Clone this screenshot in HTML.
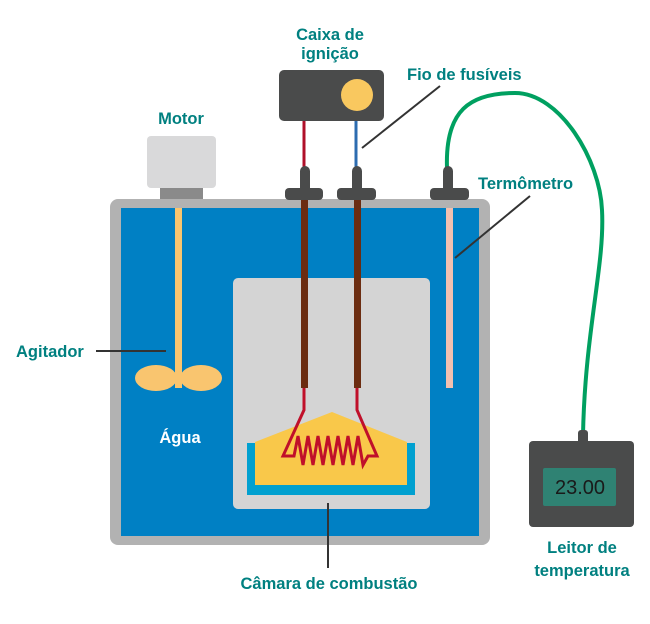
<!DOCTYPE html>
<html><head><meta charset="utf-8"><style>
html,body{margin:0;padding:0;background:#fff;}
svg text{font-family:"Liberation Sans",sans-serif;font-weight:bold;font-size:16.5px;fill:#008080;}
</style></head><body>
<svg width="650" height="619" viewBox="0 0 650 619" xmlns="http://www.w3.org/2000/svg">
<rect x="110" y="199" width="380" height="346" rx="8" fill="#b2b2b2"/>
<rect x="121" y="208" width="358" height="328" fill="#0080c4"/>
<rect x="147" y="136" width="69" height="52" rx="4" fill="#d9d9da"/>
<rect x="160" y="188" width="43" height="11" fill="#8a8a8a"/>
<rect x="175" y="208" width="7" height="170" fill="#f9c56f"/>
<ellipse cx="156" cy="378" rx="21" ry="13" fill="#f9c56f"/>
<ellipse cx="201" cy="378" rx="21" ry="13" fill="#f9c56f"/>
<rect x="175" y="368" width="7" height="20" fill="#f9c56f"/>
<rect x="446" y="208" width="7" height="180" fill="#f2c0b0"/>
<rect x="233" y="278" width="197" height="231" rx="5" fill="#d4d4d4"/>
<rect x="247" y="443" width="168" height="52" fill="#00a0d0"/>
<polygon points="255,442 332,412 407,442 407,485 255,485" fill="#f9c84a"/>
<rect x="301" y="198" width="7" height="190" fill="#6b2c10"/>
<rect x="354" y="198" width="7" height="190" fill="#6b2c10"/>
<polyline fill="none" stroke="#c0102a" stroke-width="3" stroke-linejoin="miter" points="304,388 304,410 283,456 294,456 298,436 303,465 308,436 313,465 318,436 323,465 328,436 333,465 338,436 343,465 348,436 353,465 358,436 363,465 368,456 377,456 357,410 357,388"/>
<rect x="279" y="70" width="105" height="51" rx="5" fill="#4a4b4b"/>
<circle cx="357" cy="95" r="16" fill="#f9c85f"/>
<line x1="304" y1="121" x2="304" y2="170" stroke="#b0102a" stroke-width="3"/>
<line x1="356" y1="121" x2="356" y2="170" stroke="#2d6cb0" stroke-width="3"/>
<path d="M447,168 C445,110 470,93 515,93 C560,93 600,160 602,210 C605,265 585,330 583,435" fill="none" stroke="#00a060" stroke-width="4"/>
<g fill="#4a4b4b">
<rect x="300" y="166" width="10" height="30" rx="5"/><rect x="285" y="188" width="38" height="12" rx="4"/>
<rect x="352" y="166" width="10" height="30" rx="5"/><rect x="337" y="188" width="39" height="12" rx="4"/>
<rect x="443" y="166" width="10" height="30" rx="5"/><rect x="430" y="188" width="39" height="12" rx="4"/>
<rect x="578" y="430" width="10" height="16" rx="3"/>
</g>
<rect x="529" y="441" width="105" height="86" rx="4" fill="#4a4b4b"/>
<rect x="543" y="468" width="73" height="38" rx="2" fill="#2f8273"/>
<text x="580" y="494" text-anchor="middle" style="fill:#1a1a1a;font-weight:normal;font-size:20px">23.00</text>
<g stroke="#333" stroke-width="2">
<line x1="440" y1="86" x2="362" y2="148"/>
<line x1="96" y1="351" x2="166" y2="351"/>
<line x1="530" y1="196" x2="455" y2="258"/>
<line x1="328" y1="503" x2="328" y2="568"/>
</g>
<text x="181" y="124" text-anchor="middle">Motor</text>
<text x="330" y="40" text-anchor="middle">Caixa de</text>
<text x="330" y="59" text-anchor="middle">ignição</text>
<text x="407" y="80">Fio de fusíveis</text>
<text x="478" y="189">Termômetro</text>
<text x="16" y="357">Agitador</text>
<text x="180" y="443" text-anchor="middle" style="fill:#fff">Água</text>
<text x="329" y="589" text-anchor="middle">Câmara de combustão</text>
<text x="582" y="553" text-anchor="middle">Leitor de</text>
<text x="582" y="576" text-anchor="middle">temperatura</text>
</svg>
</body></html>
